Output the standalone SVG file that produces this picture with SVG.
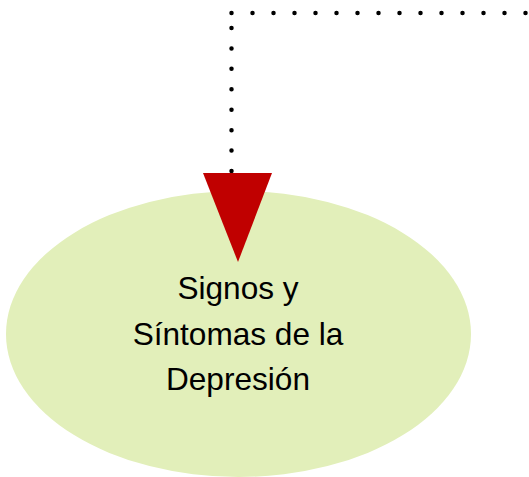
<svg xmlns="http://www.w3.org/2000/svg" width="529" height="477" viewBox="0 0 529 477">
<style>
.conn{fill:none;stroke:#000;stroke-width:4.5;stroke-linecap:round}
.h{stroke-dasharray:0 21}
.v{stroke-dasharray:0 20.43}
.node{fill:#E2EFBA}
.lbl{font-family:"Liberation Sans",Arial,sans-serif;font-size:31.6px;fill:#000;text-anchor:middle}
.head{fill:#C00000}
</style>
<g id="node-depresion">
<ellipse class="node" cx="238.5" cy="334" rx="232.5" ry="143"/>
<text class="lbl" x="238" y="299">Signos y</text>
<text class="lbl" x="238" y="345">Síntomas de la</text>
<text class="lbl" x="238" y="390">Depresión</text>
</g>
<g id="connectors">
<path class="conn h" d="M 231.5 13 L 540 13"/>
<path class="conn v" d="M 231.5 171 L 231.5 27"/>
<polygon class="head" points="203,173 272,173 238,262"/>
</g>
</svg>
